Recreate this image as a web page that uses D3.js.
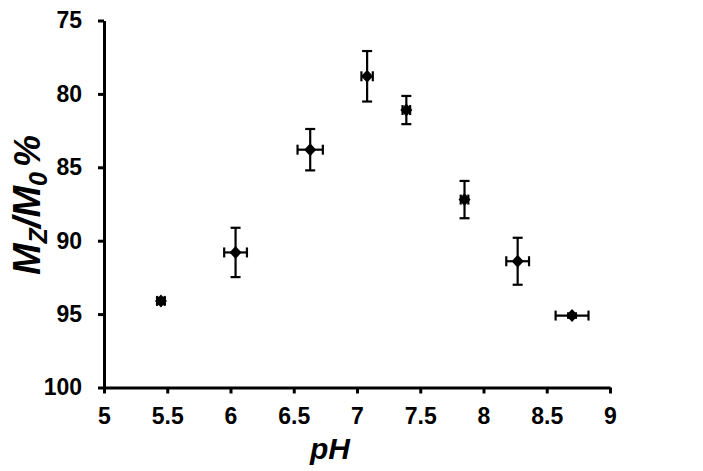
<!DOCTYPE html>
<style>
body { margin: 0; background: #fff; }
.axis text { font-family: "Liberation Sans", Arial, sans-serif; font-weight: bold; font-size: 23px; fill: #000; }
.axis .domain, .axis line { stroke: #000; stroke-width: 3px; }
</style>
<svg width="703" height="471" id="chart"></svg>
<script src="https://d3js.org/d3.v7.min.js"></script>
<script>
// pH vs Mz/M0 %
var ph    = [5.45, 6.04, 6.63, 7.08, 7.39, 7.85, 8.27, 8.70];
var ratio = [94.1, 90.8, 83.8, 78.8, 81.1, 87.2, 91.4, 95.1];
var yErr  = [0.2, 1.68, 1.41, 1.72, 0.96, 1.27, 1.6, 0.15];
var xErr  = [0.03, 0.09, 0.1, 0.045, 0.03, 0.03, 0.09, 0.13];
var xTicks = [5, 5.5, 6, 6.5, 7, 7.5, 8, 8.5, 9];
var yTicks = [75, 80, 85, 90, 95, 100];

var svg = d3.select("#chart"),
    margin = {top: 20.5, right: 93, bottom: 83.5, left: 104},
    width = +svg.attr("width") - margin.left - margin.right,
    height = +svg.attr("height") - margin.top - margin.bottom,
    g = svg.append("g").attr("transform", "translate(" + margin.left + "," + margin.top + ")");

var x = d3.scaleLinear().domain([5, 9]).range([0, width]);
var y = d3.scaleLinear().domain([75, 100]).range([0, height]);

g.append("g")
    .attr("class", "axis")
    .attr("transform", "translate(0," + height + ")")
    .call(d3.axisBottom(x).tickValues(xTicks).tickFormat(d3.format("")).tickSize(6).tickSizeOuter(0).tickPadding(14));

g.append("g")
    .attr("class", "axis")
    .call(d3.axisLeft(y).tickValues(yTicks).tickSize(6).tickSizeOuter(0).tickPadding(16));

var data = ph.map(function(d, i) {
  return {x: d, y: ratio[i], ex: xErr[i], ey: yErr[i]};
});

var cap = 5;
var bars = g.append("g").attr("stroke", "#000").attr("stroke-width", 2.2);

data.forEach(function(d) {
  var cx = x(d.x), cy = y(d.y);
  var y0 = y(d.y - d.ey), y1 = y(d.y + d.ey);
  var x0 = x(d.x - d.ex), x1 = x(d.x + d.ex);
  bars.append("line").attr("x1", cx).attr("x2", cx).attr("y1", y0).attr("y2", y1);
  bars.append("line").attr("x1", cx - cap).attr("x2", cx + cap).attr("y1", y0).attr("y2", y0);
  bars.append("line").attr("x1", cx - cap).attr("x2", cx + cap).attr("y1", y1).attr("y2", y1);
  bars.append("line").attr("x1", x0).attr("x2", x1).attr("y1", cy).attr("y2", cy);
  bars.append("line").attr("x1", x0).attr("x2", x0).attr("y1", cy - cap).attr("y2", cy + cap);
  bars.append("line").attr("x1", x1).attr("x2", x1).attr("y1", cy - cap).attr("y2", cy + cap);
});

g.append("g").selectAll("path").data(data)
  .enter().append("path")
    .attr("d", function(d) {
      var cx = x(d.x), cy = y(d.y), w = 6, h = 6.5;
      return "M" + cx + "," + (cy - h) + "L" + (cx + w) + "," + cy + "L" + cx + "," + (cy + h) + "L" + (cx - w) + "," + cy + "Z";
    })
    .attr("fill", "#000");

// axis titles
svg.append("text")
    .attr("x", 330)
    .attr("y", 459)
    .attr("text-anchor", "middle")
    .attr("font-family", "Liberation Sans, Arial, sans-serif")
    .attr("font-weight", "bold")
    .attr("font-style", "italic")
    .attr("font-size", 30)
    .text("pH");

var yl = svg.append("text")
    .attr("transform", "translate(40,205) rotate(-90)")
    .attr("text-anchor", "middle")
    .attr("font-family", "Liberation Sans, Arial, sans-serif")
    .attr("font-weight", "bold")
    .attr("font-style", "italic")
    .attr("font-size", 38);
yl.append("tspan").text("M");
yl.append("tspan").attr("font-size", 25).attr("dy", 7).text("Z");
yl.append("tspan").attr("dy", -7).text("/M");
yl.append("tspan").attr("font-size", 25).attr("dy", 7).text("0");
yl.append("tspan").attr("dy", -7).attr("dx", 5).attr("font-size", 36).text("%");
</script>
